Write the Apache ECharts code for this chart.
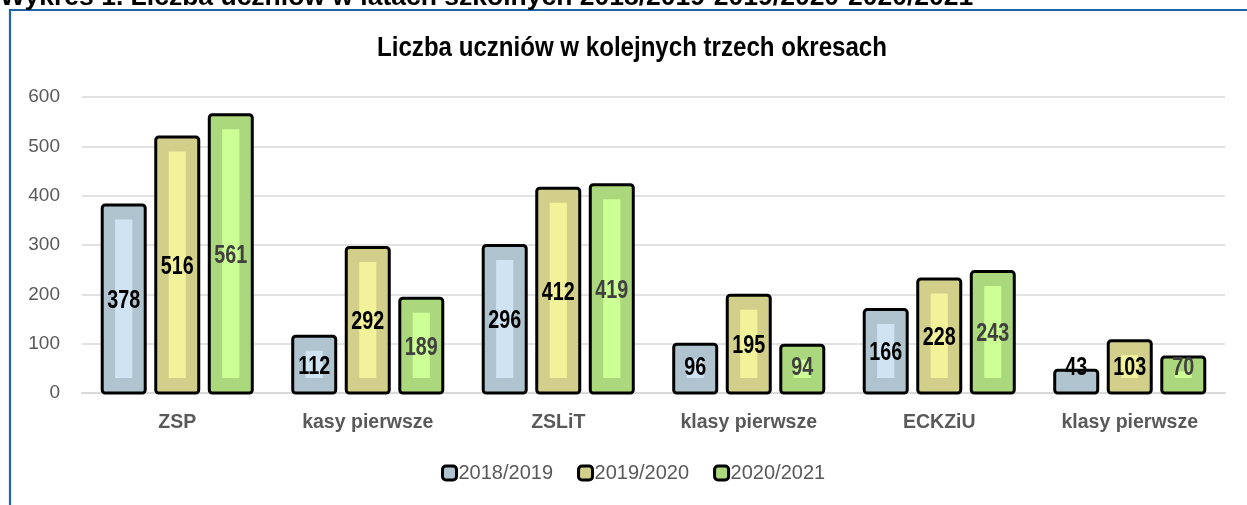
<!DOCTYPE html>
<html><head><meta charset="utf-8">
<script src="https://cdn.jsdelivr.net/npm/echarts@6/dist/echarts.min.js"></script>
<style>html,body{margin:0;padding:0;background:#fff;}#c{width:1247px;height:505px;}</style>
</head><body><div id="c"></div>
<script>
var categories = ['ZSP', 'kasy pierwsze', 'ZSLiT', 'klasy pierwsze', 'ECKZiU', 'klasy pierwsze'];
var seriesNames = ['2018/2019', '2019/2020', '2020/2021'];
var v2018 = [378, 112, 296, 96, 166, 43];
var v2019 = [516, 292, 412, 195, 228, 103];
var v2020 = [561, 189, 419, 94, 243, 70];
var yTicks = [0, 100, 200, 300, 400, 500, 600];
var chartTitle = 'Liczba uczniów w kolejnych trzech okresach';
var pageTitle = 'Wykres 1. Liczba uczniów w latach szkolnych 2018/2019-2019/2020-2020/2021';

var outerColors = ['#b0c4cf', '#d2cf8a', '#acd87d'];
var innerColors = ['#cfe3f3', '#f2f29a', '#ccff95'];
var labelColors = ['#000000', '#000000', '#404040'];

function makeRender(s) {
  return function (params, api) {
    var ci = api.value(0), v = api.value(1);
    var base = api.coord([ci, 0]);
    var top = api.coord([ci, v]);
    var band = api.size([1, 0])[0];
    var step = band * 0.281;
    var cx = base[0] + (s - 1) * step;
    var w = band * 0.2257;
    var iw = band * 0.09;
    var h = base[1] - top[1];
    var ch = [{
      type: 'rect',
      shape: { x: cx - w / 2, y: top[1] - 1.5, width: w, height: h + 1.5, r: 3 },
      style: { fill: outerColors[s], stroke: '#000', lineWidth: 3 }
    }];
    if (h > 28) {
      ch.push({
        type: 'rect',
        shape: { x: cx - iw / 2, y: top[1] + 13, width: iw, height: h - 28 },
        style: { fill: innerColors[s] }
      });
    }
    var ly = Math.min((top[1] + base[1]) / 2, base[1] - 26);
    ch.push({
      type: 'text',
      x: cx, y: ly + 1, scaleX: 0.76,
      style: {
        text: String(v), fill: labelColors[s],
        font: 'bold 26px "Liberation Sans", Arial, sans-serif',
        align: 'center', verticalAlign: 'middle'
      }
    });
    return { type: 'group', children: ch };
  };
}

function toData(arr) { return arr.map(function (v, i) { return [i, v]; }); }
var allVals = [v2018, v2019, v2020];

var chart = echarts.init(document.getElementById('c'), null, { renderer: 'canvas' });
chart.setOption({
  animation: false,
  backgroundColor: '#fff',
  graphic: [
    { type: 'rect', shape: { x: 10, y: 10, width: 1400, height: 700 }, style: { fill: 'none', stroke: '#1f64a6', lineWidth: 2.2 }, z: 0 },
    { type: 'text', x: 0, y: 11, style: { text: pageTitle, fill: '#000', font: 'bold 26.5px "Liberation Sans", Arial, sans-serif', verticalAlign: 'bottom', align: 'left' } },
    { type: 'text', x: 632, y: 48, scaleX: 0.86, style: { text: chartTitle, fill: '#000', font: 'bold 28px "Liberation Sans", Arial, sans-serif', align: 'center', verticalAlign: 'middle' } }
  ],
  legend: {
    top: 458, left: 436,
    icon: 'roundRect', itemWidth: 14, itemHeight: 14, itemGap: 24,
    textStyle: { color: '#595959', fontSize: 20, fontFamily: '"Liberation Sans", Arial, sans-serif', padding: [0, 0, 0, -3] },
    data: seriesNames.map(function (n, i) { return { name: n, itemStyle: { color: outerColors[i], borderColor: '#000', borderWidth: 3 } }; })
  },
  grid: { left: 82, right: 22, top: 97, bottom: 112 },
  xAxis: {
    type: 'category', data: categories,
    axisTick: { show: false },
    axisLine: { show: true, lineStyle: { color: '#d9d9d9', width: 2 } },
    axisLabel: { color: '#595959', fontSize: 19.5, fontWeight: 'bold', margin: 20, fontFamily: '"Liberation Sans", Arial, sans-serif' }
  },
  yAxis: {
    type: 'value', min: yTicks[0], max: yTicks[yTicks.length - 1], interval: 100,
    axisLine: { show: false }, axisTick: { show: false },
    axisLabel: { color: '#595959', fontSize: 19, margin: 22, fontFamily: '"Liberation Sans", Arial, sans-serif' },
    splitLine: { lineStyle: { color: '#d9d9d9', width: 1.5 } }
  },
  series: seriesNames.map(function (n, s) {
    return {
      name: n, type: 'custom', renderItem: makeRender(s),
      itemStyle: { color: outerColors[s], borderColor: '#000', borderWidth: 3 },
      encode: { x: 0, y: 1 },
      data: toData(allVals[s]), z: 3
    };
  })
});
</script>
</body></html>
